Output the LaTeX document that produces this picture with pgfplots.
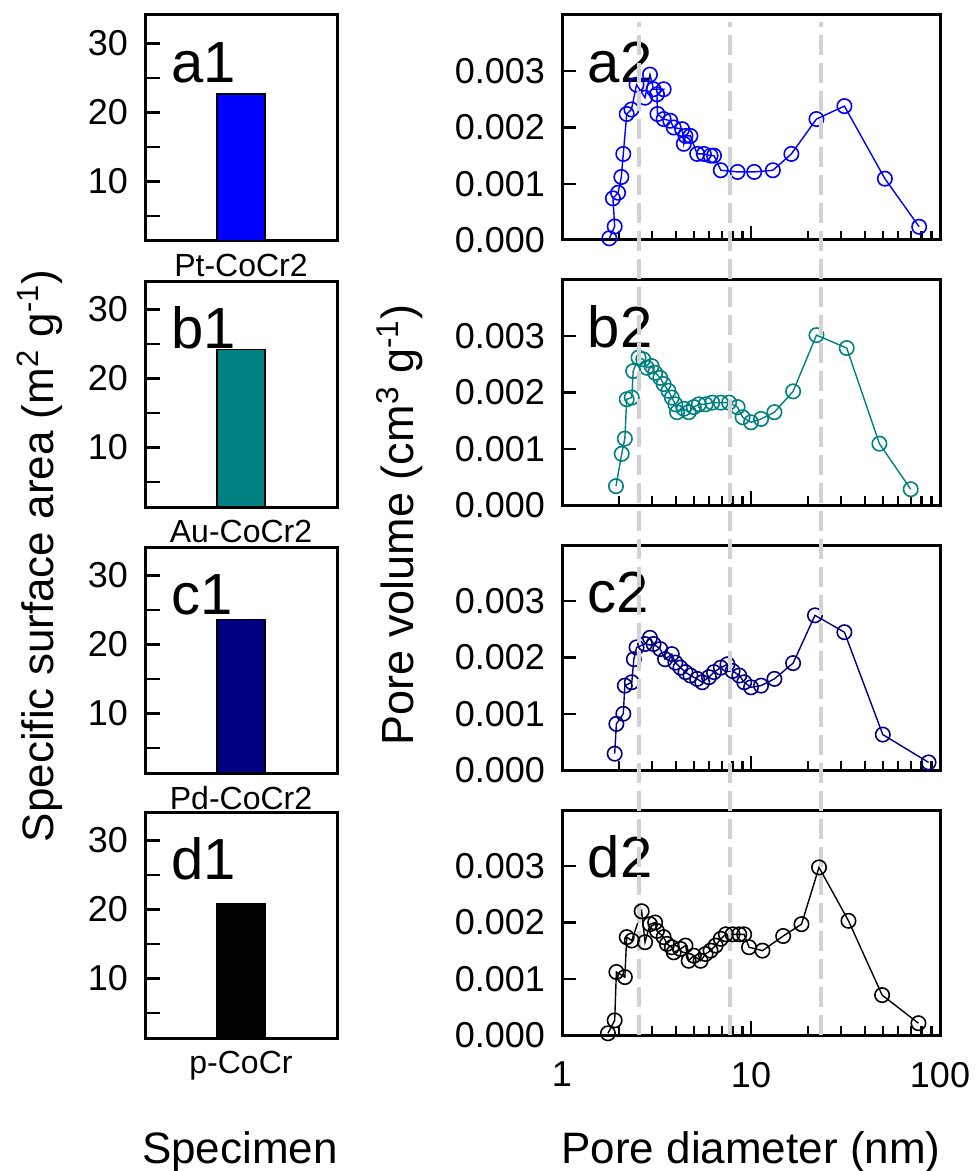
\documentclass[border=0pt]{standalone}
\usepackage{pgfplots}
\pgfplotsset{compat=1.18}
\usepackage{fontspec}
\setmainfont{Liberation Sans}
\definecolor{cA}{RGB}{0,0,255}
\definecolor{cB}{RGB}{0,128,128}
\definecolor{cC}{RGB}{0,0,128}
\definecolor{cD}{RGB}{0,0,0}
\definecolor{dashgray}{RGB}{210,210,210}
\tikzset{plab/.style={anchor=base west, font=\fontsize{29}{30}\selectfont}}
\pgfplotsset{
  rightax/.style={scale only axis, width=189pt, height=112.5pt, anchor=north west,
    xmin=1, xmax=100, ymin=0, ymax=0.004,
    xtick={1,10,100}, xticklabels={},
    minor xtick={2,3,4,5,6,7,8,9,20,30,40,50,60,70,80,90},
    ytick={0,0.001,0.002,0.003}, yticklabels={0.000,0.001,0.002,0.003},
    scaled y ticks=false,
    tick align=inside, xtick pos=left, ytick pos=left,
    major tick length=7pt, minor tick length=4.5pt,
    axis line style={line width=1.5pt},
    tick style={black, line width=1.2pt},
    tick label style={font=\fontsize{18}{20}\selectfont},
    yticklabel style={xshift=-5pt},
    xticklabel style={yshift=-10pt},
    clip=false},
  leftax/.style={scale only axis, width=96pt, height=113pt, anchor=north west,
    xmin=0, xmax=1, ymin=1.4, ymax=34.1,
    ytick={10,20,30}, yticklabels={10,20,30}, minor ytick={5,15,25},
    xtick={0.5},
    tick align=inside, ytick pos=left, xtick pos=left,
    major tick length=7.5pt, minor tick length=7.5pt,
    axis line style={line width=1.5pt},
    tick style={black, line width=1.2pt},
    x tick style={draw=none},
    tick label style={font=\fontsize{18}{20}\selectfont},
    yticklabel style={xshift=-5pt},
    xticklabel style={font=\fontsize{16}{18}\selectfont, yshift=4.5pt},
    ybar, bar width=0.25},
  pore/.style={line width=0.7pt, mark=o, mark size=3.6pt, mark options={line width=0.8pt}},
}
\begin{document}
\begin{tikzpicture}
\useasboundingbox (0,0) rectangle (488pt,-585.5pt);
% ---------------- left column ----------------
\begin{axis}[leftax, at={(72.5pt,-7.5pt)}, xticklabels={Pt-CoCr2}]
\addplot[fill=cA, draw=black, line width=0.8pt] coordinates {(0.5,22.7)};
\node[plab] at (rel axis cs:0.1,0.70) {a1};
\end{axis}
\begin{axis}[leftax, at={(72.5pt,-140.5pt)}, xticklabels={Au-CoCr2}]
\addplot[fill=cB, draw=black, line width=0.8pt] coordinates {(0.5,24.2)};
\node[plab] at (rel axis cs:0.1,0.70) {b1};
\end{axis}
\begin{axis}[leftax, at={(72.5pt,-273.5pt)}, xticklabels={Pd-CoCr2}]
\addplot[fill=cC, draw=black, line width=0.8pt] coordinates {(0.5,23.6)};
\node[plab] at (rel axis cs:0.1,0.70) {c1};
\end{axis}
\begin{axis}[leftax, at={(72.5pt,-406pt)}, xticklabels={p-CoCr}]
\addplot[fill=cD, draw=black, line width=0.8pt] coordinates {(0.5,20.8)};
\node[plab] at (rel axis cs:0.1,0.70) {d1};
\end{axis}
% ---------------- right column ----------------
\begin{semilogxaxis}[rightax, at={(281pt,-7.5pt)}]
\addplot[pore, color=cA] table {
1.78 0.00003
1.90 0.00024
1.86 0.00074
1.98 0.00084
2.06 0.00112
2.11 0.00153
2.20 0.00224
2.33 0.00232
2.48 0.00276
2.75 0.00253
2.92 0.00294
3.05 0.00268
3.45 0.00268
3.18 0.00259
3.20 0.00224
3.45 0.00215
3.74 0.00212
3.90 0.00200
4.32 0.00197
4.41 0.00171
4.50 0.00185
4.78 0.00185
5.19 0.00153
5.63 0.00153
6.11 0.00150
6.37 0.00150
6.92 0.00124
8.49 0.00121
10.4 0.00121
13.05 0.00124
16.35 0.00153
22.2 0.00215
31.2 0.00238
51.1 0.00109
77.6 0.000235
};
\node[plab] at (rel axis cs:0.05,0.70) {a2};
\end{semilogxaxis}
\begin{semilogxaxis}[rightax, at={(281pt,-140pt)}]
\addplot[pore, color=cB] table {
1.93 0.000335
2.07 0.00091
2.15 0.00118
2.20 0.00188
2.34 0.00191
2.38 0.00238
2.54 0.00262
2.69 0.00259
2.81 0.00244
2.98 0.00247
3.11 0.00235
3.31 0.00226
3.45 0.00215
3.66 0.00203
3.81 0.00191
3.98 0.00179
4.06 0.00165
4.41 0.00171
4.68 0.00165
4.98 0.00174
5.30 0.00179
5.75 0.00179
6.24 0.00182
6.92 0.00182
7.66 0.00182
8.49 0.00174
9.03 0.00156
10.0 0.00147
11.3 0.00153
13.3 0.00165
16.7 0.00202
22.2 0.00302
32.1 0.00279
47.8 0.00109
70.0 0.00028
};
\node[plab] at (rel axis cs:0.05,0.70) {b2};
\end{semilogxaxis}
\begin{semilogxaxis}[rightax, at={(281pt,-272.5pt)}]
\addplot[pore, color=cC] table {
1.90 0.00029
1.94 0.00082
2.11 0.00100
2.15 0.00150
2.34 0.00156
2.40 0.00197
2.48 0.00218
2.75 0.00224
2.92 0.00235
3.05 0.00224
3.31 0.00215
3.51 0.00197
3.81 0.00206
3.98 0.00191
4.23 0.00182
4.50 0.00174
4.78 0.00168
5.19 0.00162
5.52 0.00156
5.99 0.00165
6.37 0.00174
6.92 0.00182
7.51 0.00188
7.99 0.00176
8.67 0.00168
9.21 0.00156
10.0 0.00147
11.3 0.00150
13.3 0.00162
16.7 0.00190
21.8 0.00275
31.2 0.00245
49.8 0.00063
87.0 0.000135
};
\node[plab] at (rel axis cs:0.05,0.70) {c2};
\end{semilogxaxis}
\begin{semilogxaxis}[rightax, at={(281pt,-405pt)}, xticklabels={1,10,100}]
\addplot[pore, color=cD] table {
1.75 0.00003
1.90 0.00026
1.94 0.00112
2.15 0.00103
2.20 0.00174
2.34 0.00168
2.64 0.00220
2.75 0.00165
2.92 0.00197
3.11 0.00200
3.18 0.00185
3.45 0.00174
3.59 0.00162
3.81 0.00156
3.90 0.00147
4.23 0.00153
4.50 0.00159
4.68 0.00132
4.98 0.00141
5.41 0.00132
5.75 0.00144
6.11 0.00150
6.50 0.00159
6.92 0.00171
7.36 0.00179
7.99 0.00179
8.67 0.00179
9.20 0.00179
9.76 0.00156
11.5 0.00150
14.8 0.00176
18.5 0.00197
22.9 0.00298
32.8 0.00203
49.4 0.00071
76.9 0.00021
};
\node[plab] at (rel axis cs:0.05,0.70) {d2};
\addplot[draw=dashgray, line width=2pt, dash pattern=on 10pt off 4pt, forget plot] coordinates {(2.55,0) (2.55,0.0180)};
\addplot[draw=dashgray, line width=2pt, dash pattern=on 10pt off 4pt, forget plot] coordinates {(7.7,0) (7.7,0.0180)};
\addplot[draw=dashgray, line width=2pt, dash pattern=on 10pt off 4pt, forget plot] coordinates {(23.5,0) (23.5,0.0180)};
\end{semilogxaxis}
% ---------------- axis titles ----------------
\node[rotate=90, font=\fontsize{22}{25}\selectfont] at (20pt,-278pt) {Specific surface area (m\textsuperscript{2} g\textsuperscript{-1})};
\node[rotate=90, font=\fontsize{22.5}{25}\selectfont] at (200pt,-262.5pt) {Pore volume (cm\textsuperscript{3} g\textsuperscript{-1})};
\node[anchor=base, font=\fontsize{22}{25}\selectfont] at (120pt,-581.5pt) {Specimen};
\node[anchor=base, font=\fontsize{22}{25}\selectfont] at (375.5pt,-581.5pt) {Pore diameter (nm)};
\end{tikzpicture}
\end{document}
